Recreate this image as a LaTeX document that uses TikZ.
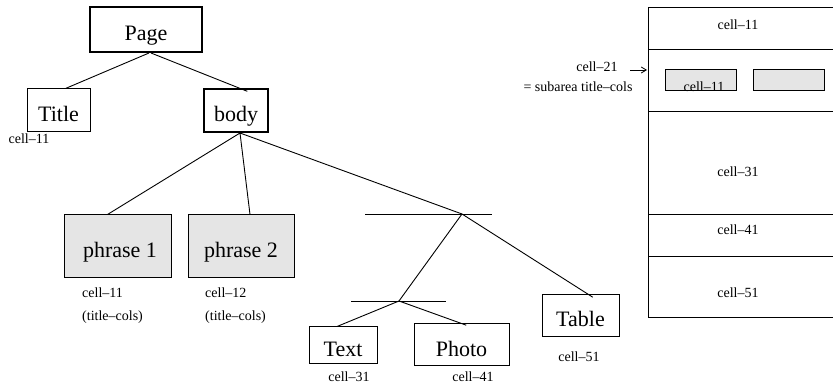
\documentclass[tikz,border=0pt]{standalone}
\usepackage{fontspec}
\setmainfont{Liberation Serif}
\usetikzlibrary{positioning, arrows.meta}

\tikzset{
  box/.style={draw, line width=1pt, inner sep=0pt, text height=22pt, text depth=0pt,
    font=\fontsize{22}{24}\selectfont},
  thickbox/.style={box, line width=2pt},
  shaded/.style={box, fill=black!10},
  lbl/.style={inner sep=0pt, font=\fontsize{14}{16}\selectfont},
  edge/.style={line width=0.9pt},
}

\begin{document}
\begin{tikzpicture}[x=1pt, y=-1pt]
        \useasboundingbox (0,0) rectangle (833,387);
        % document tree
        \node[thickbox, minimum width=112pt, minimum height=45pt] (page) at (146,29.5) {Page};
        \node[box, minimum width=63pt, minimum height=43pt] (title) at (58.5,110.5) {Title};
        \node[thickbox, minimum width=64pt, minimum height=43pt] (body) at (236,110.5) {body};
        \node[shaded, minimum width=107pt, minimum height=63pt] (phr1) at (117.5,246.5) {\hspace{5pt}phrase 1};
        \node[shaded, minimum width=106pt, minimum height=63pt] (phr2) at (241,246.5) {phrase 2\hspace{14pt}};
        \node[box, minimum width=68pt, minimum height=37pt] (text) at (343,345.5) {Text};
        \node[box, minimum width=95pt, minimum height=42pt] (photo) at (461.5,345) {Photo};
        \node[box, minimum width=77pt, minimum height=42pt] (table) at (580.5,316) {Table};
        \coordinate (j1) at (462,214);
        \coordinate (j2) at (399,301);
        \draw[edge] (365,214) -- (492,214);
        \draw[edge] (351,301) -- (446,301);
        \draw[edge, shorten >=-9pt] ([xshift=3pt]page.south) -- ([xshift=7pt]title.north)
        ([xshift=5pt]page.south) -- ([xshift=3pt]body.north);
        \draw[edge] ([xshift=4pt]body.south) -- ([xshift=-10pt]phr1.north)
        ([xshift=4pt]body.south) -- ([xshift=9pt]phr2.north)
        ([xshift=4pt]body.south) -- (j1);
        \draw[edge] (j1) -- (j2);
        \draw[edge, shorten >=-5pt] (j1) -- ([xshift=8pt]table.north);
        \draw[edge, shorten >=-5pt] (j2) -- ([xshift=-6pt]text.north) (j2) -- (photo.north);
        % cell names
        \node[lbl] (c11) at (29,139) {cell--11};
        \node[lbl, anchor=west] (c11p) at (82,293) {cell--11};
        \node[lbl, anchor=west] (tc1) at (82,317) {(title--cols)};
        \node[lbl, anchor=west] (c12p) at (205,293) {cell--12};
        \node[lbl, anchor=west] (tc2) at (205,317) {(title--cols)};
        \node[lbl] (c31) at (349,377) {cell--31};
        \node[lbl] (c41) at (473,377) {cell--41};
        \node[lbl] (c51) at (579,357) {cell--51};
        % page areas
        \draw[line width=1pt] (833,8) -| (648,318) -- (833,318);
        \foreach \y in {50,112,215,257}
                \draw[line width=1pt] (648,\y) -- (833,\y);
        \draw[fill=black!10, line width=1pt] (665,70) rectangle (736,91);
        \draw[fill=black!10, line width=1pt] (753,70) rectangle (824,91);
        \node[lbl, anchor=base] (a11in) at (704,91.5) {cell--11};
        \node[lbl] (a11) at (738,25) {cell--11};
        \node[lbl] (a31) at (738,172) {cell--31};
        \node[lbl] (a41) at (738,230) {cell--41};
        \node[lbl] (a51) at (738,293) {cell--51};
        \node[lbl] (c21) at (597,67) {cell--21};
        \node[lbl] (sub) at (578,87) {= subarea title--cols};
        \coordinate (arrtail) at (630,70);
        \coordinate (arrhead) at (647,70);
        \draw[line width=0.8pt, -{Straight Barb[length=5pt, width=6pt]}] (arrtail) -- (arrhead);
    \end{tikzpicture}
\end{document}
